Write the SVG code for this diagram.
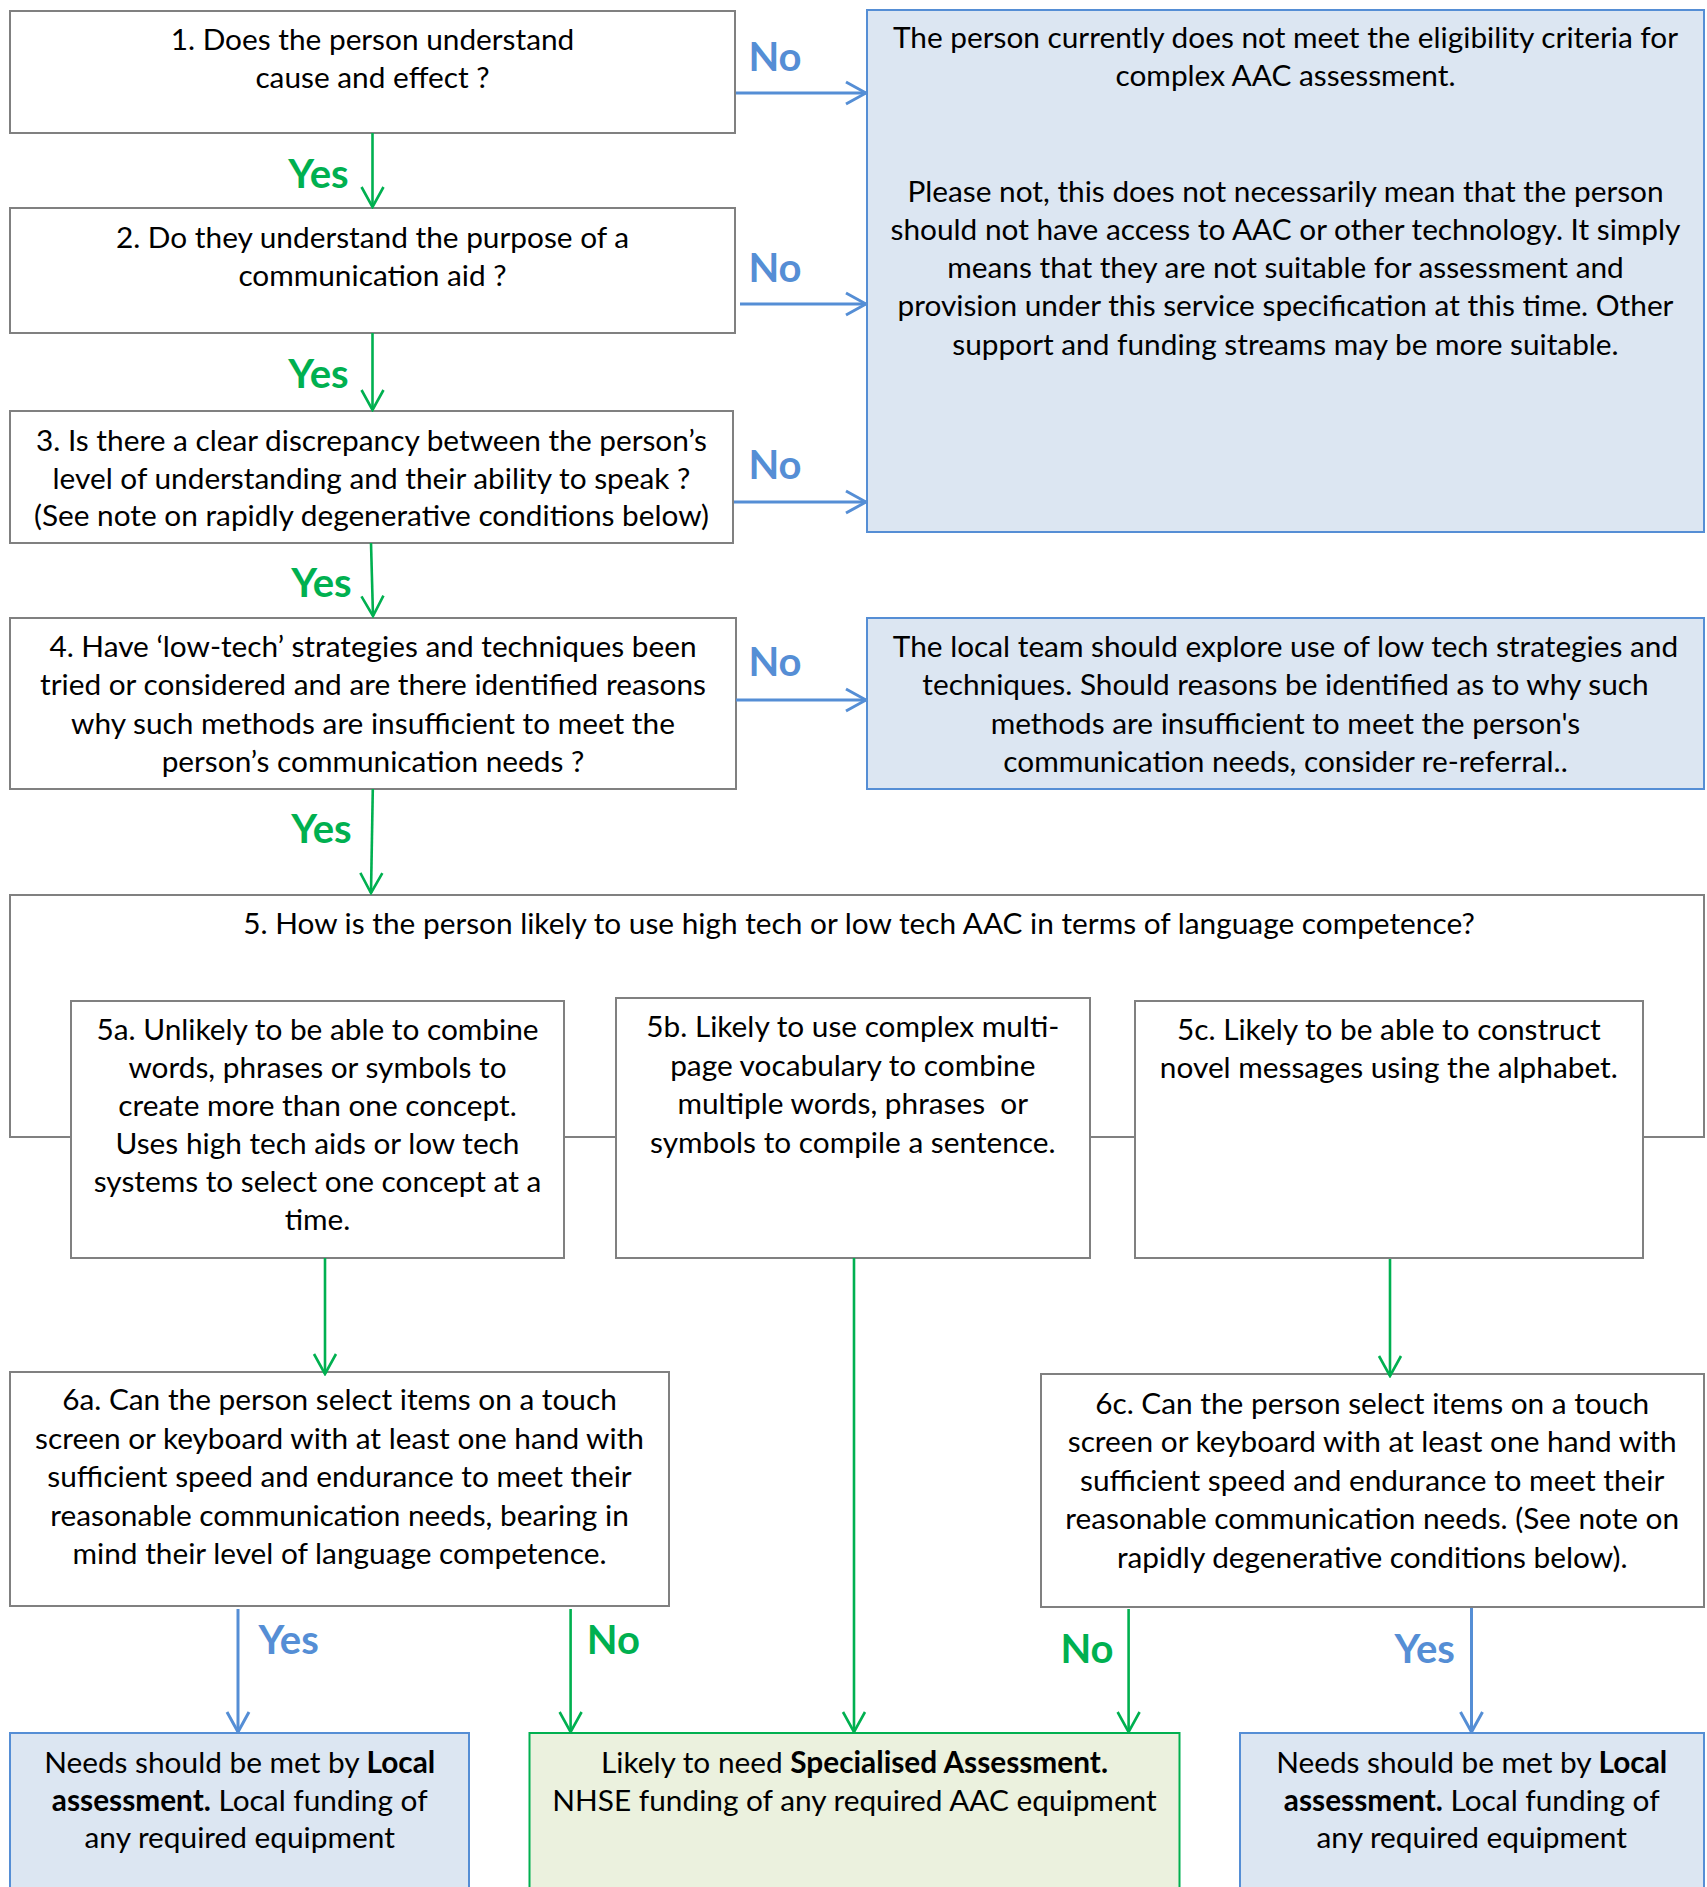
<svg xmlns="http://www.w3.org/2000/svg" width="1707" height="1887" viewBox="0 0 1707 1887">
<defs>
<style>
.q{fill:#FFFFFF;stroke:#808080;stroke-width:2}
.b{fill:#DCE6F2;stroke:#558ED5;stroke-width:2}
.g{fill:#EBF1DE;stroke:#00B050;stroke-width:2}
text{font-family:Lato,"Liberation Sans",sans-serif;font-size:29.8px;fill:#000;text-anchor:middle}
.lab{font-size:40px;font-weight:bold}
.lg{fill:#00B050}
.lb{fill:#558ED5}
.bd{font-weight:bold}
.cg{stroke:#00B050;stroke-width:2.6;fill:none;marker-end:url(#ag)}
.cb{stroke:#558ED5;stroke-width:3;fill:none;marker-end:url(#ab)}
</style>
<marker id="ag" markerUnits="userSpaceOnUse" viewBox="0 0 24 26" refX="22" refY="13" markerWidth="24" markerHeight="26" orient="auto">
<path d="M2,2 L22,13 L2,24" fill="none" stroke="#00B050" stroke-width="2.6"/>
</marker>
<marker id="ab" markerUnits="userSpaceOnUse" viewBox="0 0 24 26" refX="22" refY="13" markerWidth="24" markerHeight="26" orient="auto">
<path d="M2,2 L22,13 L2,24" fill="none" stroke="#558ED5" stroke-width="3"/>
</marker>
</defs>
<rect width="1707" height="1887" fill="#FFFFFF"/>

<g id="q1"><rect class="q" x="10" y="11" width="725" height="122"/>
<text><tspan x="372.5" y="50">1. Does the person understand</tspan><tspan x="372.5" y="87.5">cause and effect ?</tspan></text></g>

<g id="q2"><rect class="q" x="10" y="208" width="725" height="125"/>
<text><tspan x="372.5" y="247.5">2. Do they understand the purpose of a</tspan><tspan x="372.5" y="285.7">communication aid ?</tspan></text></g>

<g id="q3"><rect class="q" x="10" y="411" width="723" height="132"/>
<text><tspan x="371.5" y="451">3. Is there a clear discrepancy between the person’s</tspan><tspan x="371.5" y="488.5">level of understanding and their ability to speak ?</tspan><tspan x="371.5" y="526">(See note on rapidly degenerative conditions below)</tspan></text></g>

<g id="q4"><rect class="q" x="10" y="618" width="726" height="171"/>
<text><tspan x="373" y="657">4. Have ‘low-tech’ strategies and techniques been</tspan><tspan x="373" y="695">tried or considered and are there identified reasons</tspan><tspan x="373" y="733.5">why such methods are insufficient to meet the</tspan><tspan x="373" y="771.5">person’s communication needs ?</tspan></text></g>

<g id="notEligible"><rect class="b" x="867" y="10" width="837" height="522"/>
<text><tspan x="1285.5" y="48">The person currently does not meet the eligibility criteria for</tspan><tspan x="1285.5" y="86">complex AAC assessment.</tspan><tspan x="1285.5" y="202">Please not, this does not necessarily mean that the person</tspan><tspan x="1285.5" y="239.5">should not have access to AAC or other technology. It simply</tspan><tspan x="1285.5" y="278">means that they are not suitable for assessment and</tspan><tspan x="1285.5" y="316">provision under this service specification at this time. Other</tspan><tspan x="1285.5" y="354.6">support and funding streams may be more suitable.</tspan></text></g>

<g id="lowTech"><rect class="b" x="867" y="618" width="837" height="171"/>
<text><tspan x="1285.5" y="657">The local team should explore use of low tech strategies and</tspan><tspan x="1285.5" y="695">techniques. Should reasons be identified as to why such</tspan><tspan x="1285.5" y="733.5">methods are insufficient to meet the person's</tspan><tspan x="1285.5" y="771.5">communication needs, consider re-referral..</tspan></text></g>

<g id="q5"><rect class="q" x="10" y="895" width="1694" height="242"/>
<text><tspan x="859" y="934">5. How is the person likely to use high tech or low tech AAC in terms of language competence?</tspan></text></g>

<g id="q5a"><rect class="q" x="71" y="1001" width="493" height="257"/>
<text><tspan x="317.5" y="1039.5">5a. Unlikely to be able to combine</tspan><tspan x="317.5" y="1077.8">words, phrases or symbols to</tspan><tspan x="317.5" y="1116">create more than one concept.</tspan><tspan x="317.5" y="1154">Uses high tech aids or low tech</tspan><tspan x="317.5" y="1192">systems to select one concept at a</tspan><tspan x="317.5" y="1230">time.</tspan></text></g>

<g id="q5b"><rect class="q" x="616" y="998" width="474" height="260"/>
<text><tspan x="852.8" y="1037">5b. Likely to use complex multi-</tspan><tspan x="852.8" y="1075.5">page vocabulary to combine</tspan><tspan x="852.8" y="1114">multiple words, phrases&#160; or</tspan><tspan x="852.8" y="1152.5">symbols to compile a sentence.</tspan></text></g>

<g id="q5c"><rect class="q" x="1135" y="1001" width="508" height="257"/>
<text><tspan x="1388.8" y="1039.5">5c. Likely to be able to construct</tspan><tspan x="1388.8" y="1078">novel messages using the alphabet.</tspan></text></g>

<g id="q6a"><rect class="q" x="10" y="1372" width="659" height="234"/>
<text><tspan x="339.5" y="1410">6a. Can the person select items on a touch</tspan><tspan x="339.5" y="1449">screen or keyboard with at least one hand with</tspan><tspan x="339.5" y="1487">sufficient speed and endurance to meet their</tspan><tspan x="339.5" y="1526">reasonable communication needs, bearing in</tspan><tspan x="339.5" y="1564">mind their level of language competence.</tspan></text></g>

<g id="q6c"><rect class="q" x="1041" y="1374" width="663" height="233"/>
<text><tspan x="1372.2" y="1414">6c. Can the person select items on a touch</tspan><tspan x="1372.2" y="1452">screen or keyboard with at least one hand with</tspan><tspan x="1372.2" y="1491">sufficient speed and endurance to meet their</tspan><tspan x="1372.2" y="1529">reasonable communication needs. (See note on</tspan><tspan x="1372.2" y="1568">rapidly degenerative conditions below).</tspan></text></g>

<g id="localA"><rect class="b" x="10" y="1733" width="459" height="170"/>
<text><tspan x="239.7" y="1773">Needs should be met by <tspan class="bd">Local</tspan></tspan><tspan x="239.7" y="1810.5"><tspan class="bd">assessment.</tspan> Local funding of</tspan><tspan x="239.7" y="1848.4">any required equipment</tspan></text></g>

<g id="specialised"><rect class="g" x="529.5" y="1733" width="650" height="170"/>
<text><tspan x="854.5" y="1773">Likely to need <tspan class="bd">Specialised Assessment.</tspan></tspan><tspan x="854.5" y="1810.5">NHSE funding of any required AAC equipment</tspan></text></g>

<g id="localC"><rect class="b" x="1240" y="1733" width="464" height="170"/>
<text><tspan x="1471.7" y="1773">Needs should be met by <tspan class="bd">Local</tspan></tspan><tspan x="1471.7" y="1810.5"><tspan class="bd">assessment.</tspan> Local funding of</tspan><tspan x="1471.7" y="1848.4">any required equipment</tspan></text></g>

<g id="connectors">
<path class="cg" d="M372.5,133 L372.5,207"/>
<path class="cg" d="M372.5,333 L372.5,410"/>
<path class="cg" d="M371,543 L373,616"/>
<path class="cg" d="M372.8,789 L371,893"/>
<path class="cb" d="M736,93 L866,93"/>
<path class="cb" d="M740,304 L866,304"/>
<path class="cb" d="M734,502 L866,502"/>
<path class="cb" d="M736,700 L866,700"/>
<path class="cg" d="M325,1258 L325,1374"/>
<path class="cg" d="M854,1258 L854,1732"/>
<path class="cg" d="M1390,1259 L1390,1376"/>
<path class="cb" d="M238,1609 L238,1732"/>
<path class="cg" d="M570.6,1609 L570.6,1732"/>
<path class="cg" d="M1128.6,1609 L1128.6,1732"/>
<path class="cb" d="M1471.5,1608 L1471.5,1732"/>
<text class="lab lg" x="318.5" y="187.5">Yes</text>
<text class="lab lg" x="318.5" y="387.5">Yes</text>
<text class="lab lg" x="321.5" y="596.7">Yes</text>
<text class="lab lg" x="321.5" y="843">Yes</text>
<text class="lab lb" x="775" y="71">No</text>
<text class="lab lb" x="775" y="282">No</text>
<text class="lab lb" x="775" y="479">No</text>
<text class="lab lb" x="775" y="676">No</text>
<text class="lab lb" x="288.6" y="1653.6">Yes</text>
<text class="lab lg" x="613.3" y="1654.4">No</text>
<text class="lab lg" x="1087" y="1663">No</text>
<text class="lab lb" x="1424.7" y="1662.5">Yes</text>
</g>
</svg>
